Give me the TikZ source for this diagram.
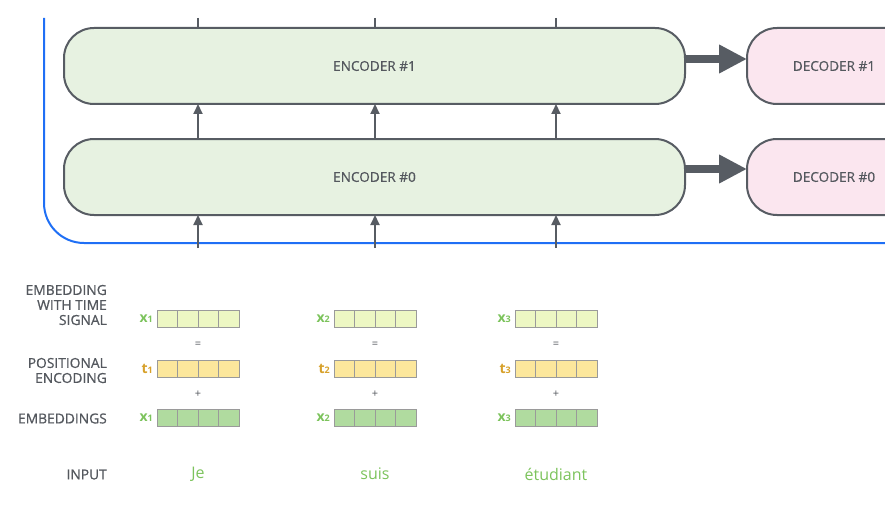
\documentclass[tikz,border=0pt]{standalone}
\usepackage{fontspec}
\setmainfont{Open Sans}
\newfontfamily\medfont{Open Sans}[FakeBold=0.7]
\usetikzlibrary{arrows.meta}
\definecolor{strk}{HTML}{575C63}
\definecolor{frameblue}{HTML}{1F6FF5}
\definecolor{encfill}{HTML}{E7F2E1}
\definecolor{decfill}{HTML}{FBE6EF}
\definecolor{txtgray}{HTML}{54585E}
\definecolor{cellgray}{HTML}{9A9A9A}
\definecolor{tsfill}{HTML}{EDF7C3}
\definecolor{pefill}{HTML}{FCE79C}
\definecolor{emfill}{HTML}{B0DB9F}
\definecolor{xgreen}{HTML}{7CC35C}
\definecolor{tgold}{HTML}{D7A12B}
\tikzset{
  blockbox/.style={draw=strk, line width=2pt, rounded corners=30pt, minimum height=76pt,
    inner sep=0pt, outer sep=0pt, text=txtgray, font=\medfont\fontsize{13.6}{15}\selectfont},
  encbox/.style={blockbox, fill=encfill, minimum width=621pt},
  decbox/.style={blockbox, fill=decfill, minimum width=174pt},
  conn/.style={draw=strk, line width=2pt},
  upar/.style={conn, -{Triangle[length=10pt,width=9pt]}},
  bigar/.style={draw=strk, line width=8pt, -{Triangle[length=28pt,width=27pt]}},
  cell/.style={draw=cellgray, line width=1pt, rectangle, minimum width=20.5pt,
    minimum height=17pt, inner sep=0pt, outer sep=0pt},
  rowlabel/.style={anchor=east, align=right, text=txtgray, inner sep=0pt,
    font=\medfont\fontsize{13.8}{15}\selectfont},
  veclabel/.style={anchor=east, inner sep=0pt},
  opsign/.style={text=txtgray, inner sep=0pt, font=\fontsize{11}{11}\selectfont},
  word/.style={text=xgreen, inner sep=0pt, font=\fontsize{16}{17}\selectfont}
}
\begin{document}
\begin{tikzpicture}[x=1pt,y=-1pt]
\useasboundingbox (0,0) rectangle (885,508);
\clip (0,0) rectangle (885,508);
% blue frame
\draw[frameblue, line width=2pt, rounded corners=40pt] (44,18) -- (44,243) -- (900,243);
% encoder / decoder blocks
\node[encbox] (enc1) at (374.5,66) {ENCODER \#1};
\node[encbox] (enc0) at (374.5,177) {ENCODER \#0};
\node[decbox] (dec1) at (834,66) {DECODER \#1};
\node[decbox] (dec0) at (834,177) {DECODER \#0};
% thick arrows
\draw[bigar] ([yshift=7pt]enc1.east) -- ([yshift=7pt]enc1.east -| dec1.west);
\draw[bigar] ([yshift=8pt]enc0.east) -- ([yshift=8pt]enc0.east -| dec0.west);
% vertical connectors
\foreach \i/\cx in {1/198,2/375,3/556}{
  \coordinate (top\i) at (\cx,18);
  \coordinate (bot\i) at (\cx,248);
  \draw[conn] (top\i) -- (top\i |- enc1.north);
  \draw[upar] (enc0.north -| top\i) -- (enc1.south -| top\i);
  \draw[upar] (bot\i) -- (bot\i |- enc0.south);
}
% row labels
\node[rowlabel] (lts) at (107,305) {EMBEDDING\\WITH TIME\\SIGNAL};
\node[rowlabel] (lpe) at (107,370.5) {POSITIONAL\\ENCODING};
\node[rowlabel] (lem) at (107,418.5) {EMBEDDINGS};
\node[rowlabel] (lin) at (107,474.5) {INPUT};
% vectors
\foreach \col/\xs/\w in {1/157/Je,2/334/suis,3/515/étudiant}{
  \foreach \k in {0,...,3}{
    \node[cell, fill=tsfill] (ts\col\k) at (\xs+10.25+\k*20.5,318.5) {};
    \node[cell, fill=pefill] (pe\col\k) at (\xs+10.25+\k*20.5,368.5) {};
    \node[cell, fill=emfill] (em\col\k) at (\xs+10.25+\k*20.5,417.5) {};
  }
  \node[veclabel, text=xgreen] (xa\col) at (\xs-4,319) {{\fontsize{14}{14}\selectfont\bfseries x}{\fontsize{9}{9}\selectfont\bfseries\col}};
  \node[veclabel, text=tgold] (ta\col) at (\xs-4,369) {{\fontsize{14}{14}\selectfont\bfseries t}{\fontsize{9}{9}\selectfont\bfseries\col}};
  \node[veclabel, text=xgreen] (xb\col) at (\xs-4,418) {{\fontsize{14}{14}\selectfont\bfseries x}{\fontsize{9}{9}\selectfont\bfseries\col}};
  \node[opsign] (eq\col) at (\xs+41,345) {=};
  \node[opsign] (pl\col) at (\xs+41,394) {+};
  \node[word] (w\col) at (\xs+41,474) {\w};
}
\end{tikzpicture}
\end{document}
